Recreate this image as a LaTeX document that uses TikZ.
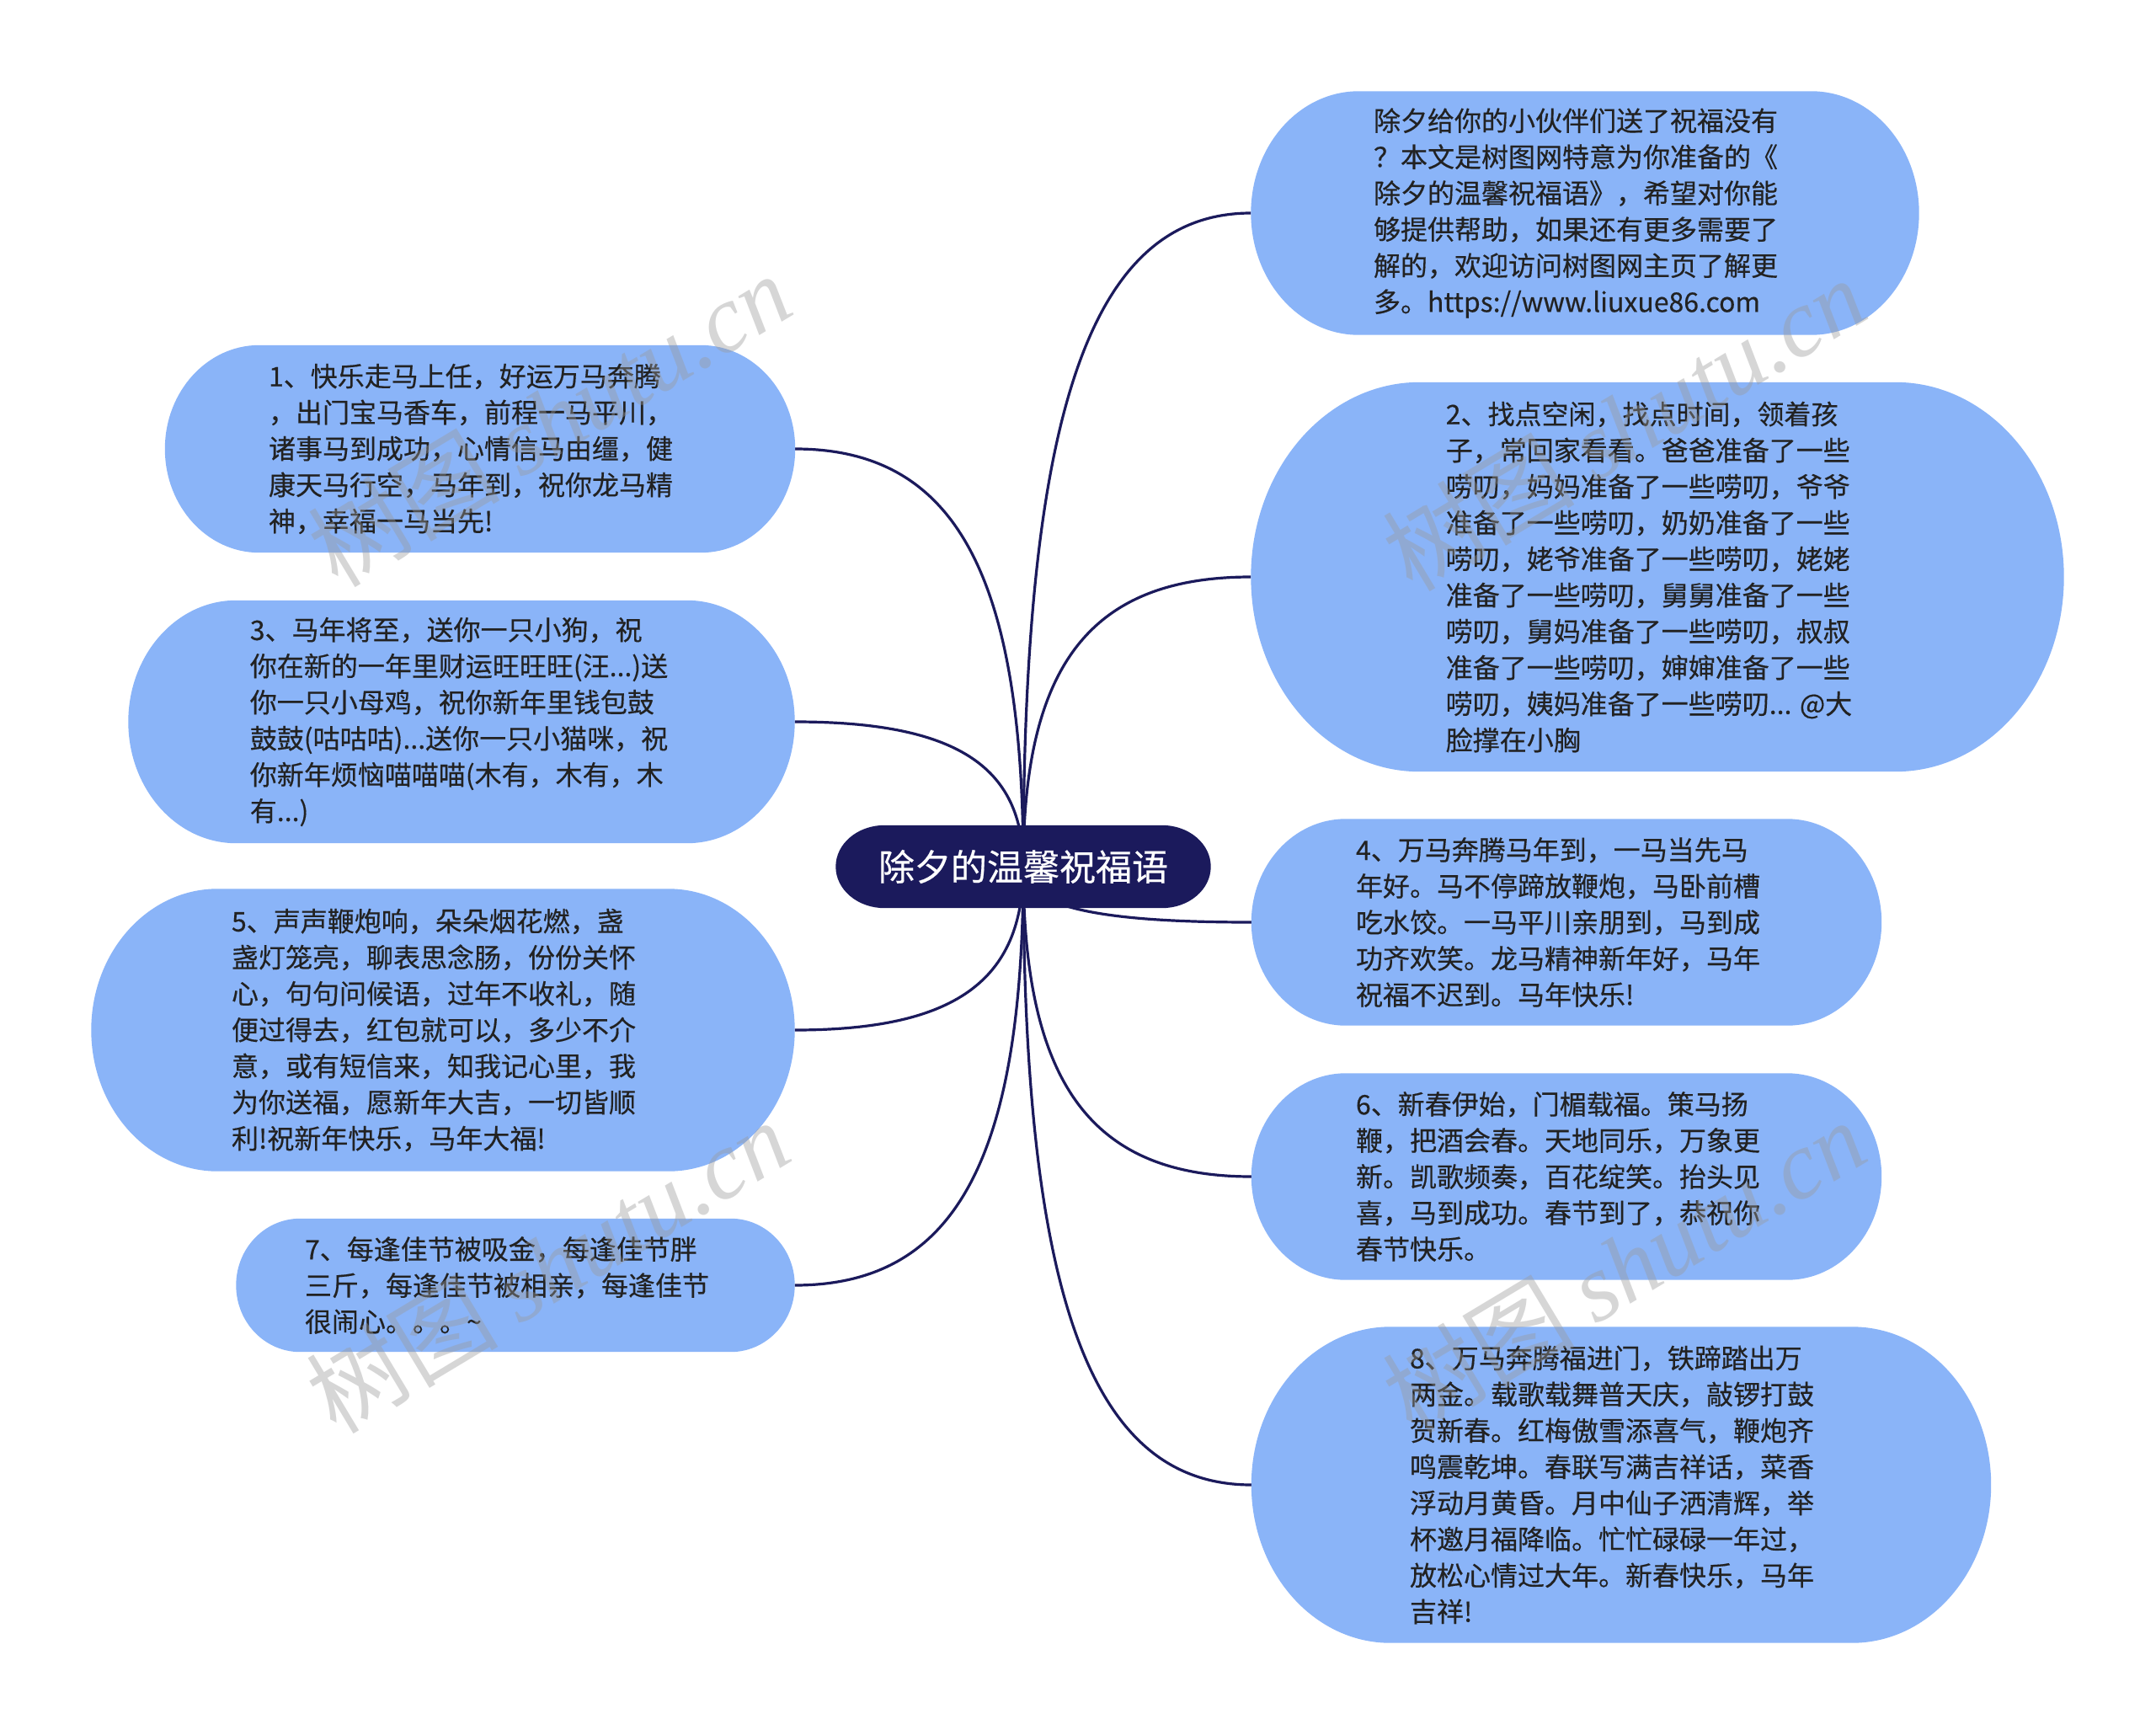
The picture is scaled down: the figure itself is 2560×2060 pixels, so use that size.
\documentclass[tikz,border=0pt]{standalone}
\usepackage{fontspec}
\setmainfont{Noto Sans CJK SC}
\newfontfamily\leaffont{Noto Sans CJK SC}[FakeBold=0.4]
\newfontfamily\wmlat{Liberation Serif}
\usetikzlibrary{calc}
\definecolor{leafcol}{HTML}{8AB4F8}
\definecolor{navy}{HTML}{1B1A5C}
\definecolor{txt}{HTML}{222222}
\definecolor{wmgray}{HTML}{9A9A9A}
\pgfdeclarelayer{paper}
\pgfdeclarelayer{lines}
\pgfdeclarelayer{shapes}
\pgfdeclarelayer{marks}
\pgfsetlayers{paper,lines,shapes,main,marks}
\newcommand\boxbg[3]{%
  \begin{pgfonlayer}{shapes}
  \fill[#3] let \p1=(#1.south west), \p2=(#1.north east), \n1={(\y2-\y1)/2} in
    (\x1+#2pt,\y1) -- (\x2-#2pt,\y1)
    arc[start angle=-90,end angle=90,x radius=#2pt,y radius=\n1]
    -- (\x1+#2pt,\y2)
    arc[start angle=90,end angle=270,x radius=#2pt,y radius=\n1] -- cycle;
  \end{pgfonlayer}}
% name, cx, cy, w, h, rx, text x-offset, text
\newcommand\leafnode[8]{%
  \node[boxn, minimum width=#4pt, minimum height=#5pt] (#1) at (#2,#3) {};
  \node[leaf] (#1t) at ([xshift=#7pt]#1.center) {#8};
  \boxbg{#1}{#6}{leafcol}}
\newcommand\connR[1]{%
  \begin{pgfonlayer}{lines}
  \draw[conn] (c.center) .. controls ($(c.center)!0.7!(c.center |- #1.west)$) and ($(c.center |- #1.west)!0.3!(#1.west)$) .. (#1.west);
  \end{pgfonlayer}}
\newcommand\connL[1]{%
  \begin{pgfonlayer}{lines}
  \draw[conn] (c.center) .. controls ($(c.center)!0.7!(c.center |- #1.east)$) and ($(c.center |- #1.east)!0.3!(#1.east)$) .. (#1.east);
  \end{pgfonlayer}}
\tikzset{
  boxn/.style={inner sep=0pt},
  leaf/.style={text=txt, font=\leaffont\fontsize{32}{43}\selectfont, align=left, inner sep=0pt},
  rootn/.style={text=white, font=\leaffont\fontsize{43}{50}\selectfont, inner sep=0pt},
  conn/.style={draw=navy, line width=3.2pt},
  wm/.style={text=wmgray, text opacity=0.4, font=\fontsize{114}{120}\selectfont, rotate=31, inner sep=0pt}
}
\begin{document}
\begin{tikzpicture}[x=1pt,y=-1pt]
\useasboundingbox (0,0) rectangle (2560,2060);
\begin{pgfonlayer}{paper}
\fill[white] (0,0) rectangle (2560,2060);
\end{pgfonlayer}

% root
\node[rootn, minimum width=445pt, minimum height=98pt] (c) at (1215,1029) {除夕的温馨祝福语};
\boxbg{c}{58}{navy}

% right side
\leafnode{r0}{1882}{253}{793}{289}{128}{-11}{除夕给你的小伙伴们送了祝福没有\\？本文是树图网特意为你准备的《\\除夕的温馨祝福语》，希望对你能\\够提供帮助，如果还有更多需要了\\解的，欢迎访问树图网主页了解更\\多。https://www.liuxue86.com}

\leafnode{r2}{1968}{685}{965}{462}{200}{-10}{2、找点空闲，找点时间，领着孩\\子，常回家看看。爸爸准备了一些\\唠叨，妈妈准备了一些唠叨，爷爷\\准备了一些唠叨，奶奶准备了一些\\唠叨，姥爷准备了一些唠叨，姥姥\\准备了一些唠叨，舅舅准备了一些\\唠叨，舅妈准备了一些唠叨，叔叔\\准备了一些唠叨，婶婶准备了一些\\唠叨，姨妈准备了一些唠叨... @大\\脸撑在小胸}

\leafnode{r4}{1860}{1095}{748}{245}{112}{-10}{4、万马奔腾马年到，一马当先马\\年好。马不停蹄放鞭炮，马卧前槽\\吃水饺。一马平川亲朋到，马到成\\功齐欢笑。龙马精神新年好，马年\\祝福不迟到。马年快乐!}

\leafnode{r6}{1860}{1397}{748}{245}{112}{-10}{6、新春伊始，门楣载福。策马扬\\鞭，把酒会春。天地同乐，万象更\\新。凯歌频奏，百花绽笑。抬头见\\喜，马到成功。春节到了，恭祝你\\春节快乐。}

\leafnode{r8}{1925}{1763}{878}{375}{165}{-11}{8、万马奔腾福进门，铁蹄踏出万\\两金。载歌载舞普天庆，敲锣打鼓\\贺新春。红梅傲雪添喜气，鞭炮齐\\鸣震乾坤。春联写满吉祥话，菜香\\浮动月黄昏。月中仙子洒清辉，举\\杯邀月福降临。忙忙碌碌一年过，\\放松心情过大年。新春快乐，马年\\吉祥!}

% left side
\leafnode{l1}{570}{533}{748}{246}{112}{-11}{1、快乐走马上任，好运万马奔腾\\，出门宝马香车，前程一马平川，\\诸事马到成功，心情信马由缰，健\\康天马行空，马年到，祝你龙马精\\神，幸福一马当先!}

\leafnode{l3}{548}{857}{791}{288}{128}{-3}{3、马年将至，送你一只小狗，祝\\你在新的一年里财运旺旺旺(汪...)送\\你一只小母鸡，祝你新年里钱包鼓\\鼓鼓(咕咕咕)...送你一只小猫咪，祝\\你新年烦恼喵喵喵(木有，木有，木\\有...)}

\leafnode{l5}{526}{1223}{835}{335}{150}{-11}{5、声声鞭炮响，朵朵烟花燃，盏\\盏灯笼亮，聊表思念肠，份份关怀\\心，句句问候语，过年不收礼，随\\便过得去，红包就可以，多少不介\\意，或有短信来，知我记心里，我\\为你送福，愿新年大吉，一切皆顺\\利!祝新年快乐，马年大福!}

\leafnode{l7}{612}{1526}{663}{158}{76}{-10}{7、每逢佳节被吸金，每逢佳节胖\\三斤，每逢佳节被相亲，每逢佳节\\很闹心。。。\textasciitilde}

% connectors
\connR{r0}\connR{r2}\connR{r4}\connR{r6}\connR{r8}
\connL{l1}\connL{l3}\connL{l5}\connL{l7}

% watermarks
\begin{pgfonlayer}{marks}
\node[wm] (w1) at (652,498) {树图 {\wmlat\itshape shutu.cn}};
\node[wm] (w2) at (1928,503) {树图 {\wmlat\itshape shutu.cn}};
\node[wm] (w3) at (650,1503) {树图 {\wmlat\itshape shutu.cn}};
\node[wm] (w4) at (1928,1503) {树图 {\wmlat\itshape shutu.cn}};
\end{pgfonlayer}
\end{tikzpicture}
\end{document}
